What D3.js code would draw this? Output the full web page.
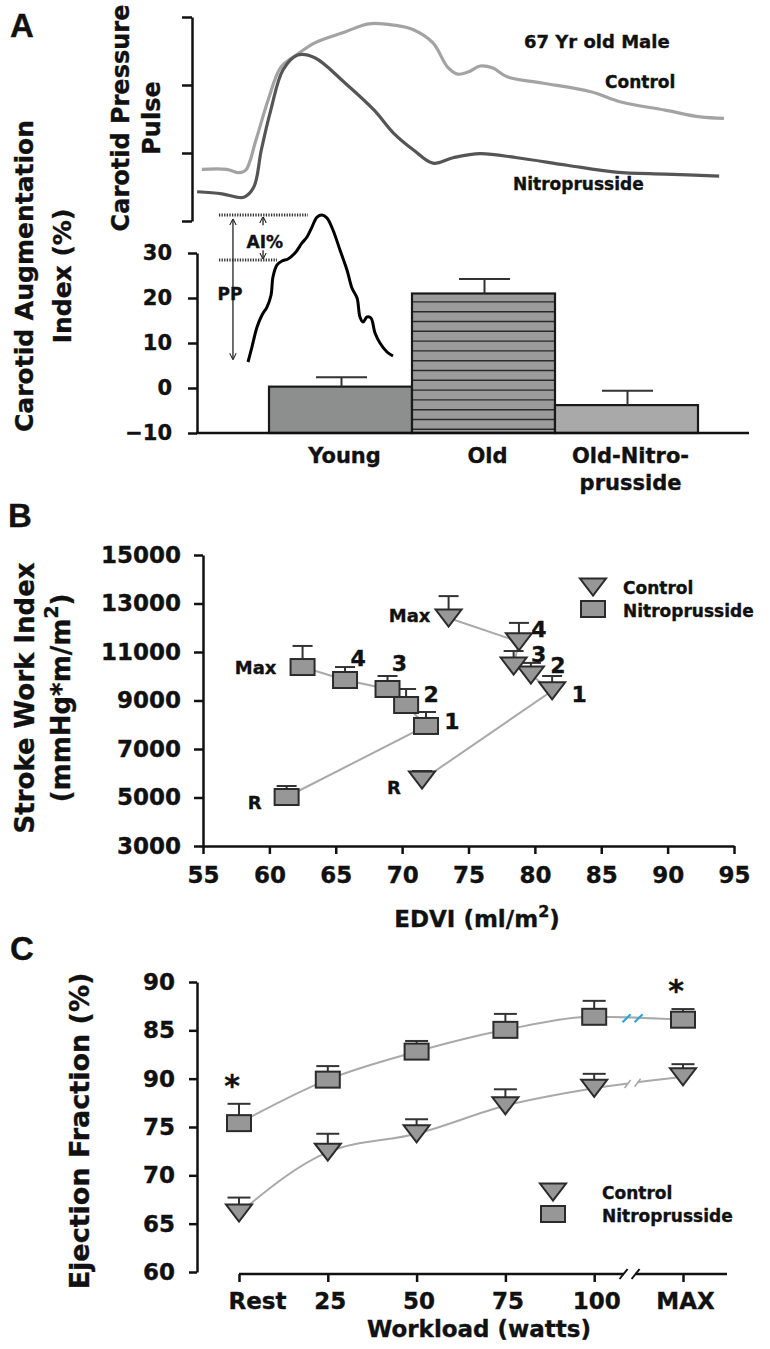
<!DOCTYPE html>
<html>
<head>
<meta charset="utf-8">
<script src="https://cdn.jsdelivr.net/npm/d3@7/dist/d3.min.js"></script>
<style>
  body { margin: 0; background: #fff; }
  svg { display: block; }
  svg text { stroke: #111; stroke-width: 0.35px; }
</style>
</head>
<body>
<svg id="fig" width="770" height="1349"></svg>
<script>
// ---- Panel A: carotid pressure pulse, 67 yr old male (time %, pressure units) ----
var controlPulse = [[1.3,0.76],[6.0,0.76],[8.3,0.71],[9.6,0.75],[11.5,1.19],[13.8,1.78],[16.2,2.26],[19.1,2.44],
  [22.6,2.62],[28.3,2.78],[32.8,2.90],[37.5,2.88],[41.3,2.81],[44.9,2.62],[47.7,2.26],[49.6,2.16],[51.5,2.19],
  [53.8,2.28],[56.2,2.25],[58.9,2.12],[65.5,2.03],[74.7,1.90],[80.4,1.75],[88.7,1.63],[95.3,1.53],[99.8,1.51]];
var nitroPulse = [[0.4,0.43],[5.1,0.40],[9.2,0.35],[11.1,0.50],[12.5,1.04],[14.3,1.63],[16.6,2.22],[19.4,2.44],
  [22.6,2.40],[28.3,2.03],[33.8,1.63],[37.5,1.29],[41.3,1.04],[44.9,0.85],[48.7,0.93],[53.8,0.99],[60.8,0.93],
  [70.2,0.82],[79.4,0.72],[88.7,0.69],[98.9,0.66]];
// schematic young pulse used to define AI% and PP (normalised)
var schematicPulse = [[0,0],[0.027,0.102],[0.062,0.238],[0.096,0.320],[0.130,0.374],[0.158,0.456],[0.171,0.578],
  [0.199,0.660],[0.233,0.687],[0.274,0.701],[0.322,0.741],[0.370,0.810],[0.404,0.850],[0.438,0.918],[0.473,0.986],
  [0.507,1.0],[0.541,0.980],[0.582,0.898],[0.630,0.762],[0.678,0.626],[0.712,0.503],[0.747,0.435],[0.767,0.306],
  [0.788,0.272],[0.815,0.306],[0.842,0.299],[0.870,0.197],[0.904,0.129],[0.952,0.068],[0.993,0.041]];
var schematicShoulder = 0.694;

// ---- Panel A: augmentation index bars ----
var aiGroups = ['Young', 'Old', 'Old-Nitro-prusside'];
var aiLabels = [['Young'], ['Old'], ['Old-Nitro-', 'prusside']];
var aiMeans = [0.3, 21.0, -3.8];
var aiErrors = [2.1, 3.2, 3.2];
var aiTicks = [-10, 0, 10, 20, 30];

// ---- Panel B: stroke work index vs EDVI ----
var stages = ['R', '1', '2', '3', '4', 'Max'];
var nitroEdvi = [61.3, 71.8, 70.3, 68.9, 65.7, 62.5];
var nitroSwi = [5020, 7950, 8815, 9475, 9845, 10380];
var nitroSwiErr = [455, 575, 660, 535, 535, 870];
var controlEdvi = [71.5, 81.3, 79.7, 78.4, 78.8, 73.5];
var controlSwi = [5720, 9400, 10050, 10420, 11420, 12400];
var controlSwiErr = [370, 610, 500, 620, 780, 905];
var edviTicks = [55, 60, 65, 70, 75, 80, 85, 90, 95];
var swiTicks = [3000, 5000, 7000, 9000, 11000, 13000, 15000];

// ---- Panel C: ejection fraction vs workload ----
var workloads = ['Rest', '25', '50', '75', '100', 'MAX'];
var nitroEF = [75.4, 79.9, 82.8, 85.05, 86.4, 86.1];
var nitroEFErr = [2.0, 1.4, 1.1, 1.65, 1.65, 1.1];
var controlEF = [66.1, 72.4, 74.3, 77.2, 79.0, 80.2];
var controlEFErr = [1.6, 1.9, 1.5, 1.7, 1.5, 1.3];
var efTicks = [60, 65, 70, 75, 80, 85, 90];
var efTickLabels = ['60', '65', '70', '75', '90', '85', '90'];
var significant = ['Rest', 'MAX'];

var FONT = "'DejaVu Sans', Verdana, sans-serif";
var INK = '#111';
var MARK_FILL = '#979797';
var MARK_STROKE = '#2b2b2b';
var LINK = '#a9a9a9';

var svg = d3.select('#fig');

function styleAxis(g, size) {
    g.attr('font-family', FONT).attr('font-size', size).attr('font-weight', 'bold');
    g.selectAll('path.domain').attr('stroke', INK).attr('stroke-width', 2.5);
    g.selectAll('.tick line').attr('stroke', INK).attr('stroke-width', 2.5);
    g.selectAll('.tick text').attr('fill', INK);
}

function label(x, y, txt, size, anchor) {
    return svg.append('text').attr('x', x).attr('y', y)
        .attr('font-family', FONT).attr('font-weight', 'bold')
        .attr('font-size', size).attr('fill', INK)
        .attr('text-anchor', anchor || 'start').text(txt);
}

// rotated axis title, one entry per line; odd parts of a line are superscripts
function vTitle(lines, xs, cy, size) {
    lines.forEach(function(ln, i) {
        var t = svg.append('text')
            .attr('transform', 'translate(' + xs[i] + ',' + cy + ') rotate(-90)')
            .attr('font-family', FONT).attr('font-weight', 'bold')
            .attr('font-size', size).attr('fill', INK).attr('text-anchor', 'middle');
        ln.forEach(function(part, j) {
            var sp = t.append('tspan').text(part);
            if (j % 2 === 1) sp.attr('font-size', size * 0.72).attr('dy', -size * 0.45);
            else if (j > 0) sp.attr('dy', size * 0.45);
        });
    });
}

function panelLetter(x, y, txt) {
    svg.append('text').attr('x', x).attr('y', y).text(txt)
        .attr('font-family', "'Liberation Sans', Arial, sans-serif")
        .attr('font-weight', 'bold').attr('font-size', 33).attr('fill', INK);
}

var triPath = 'M-13,-8.5L13,-8.5L0,8.5Z';

function drawMarkers(g, pts, shape) {
    var sel = g.selectAll(null).data(pts).enter();
    if (shape === 'square') {
        sel.append('rect')
            .attr('x', function(d) { return d[0] - 12; })
            .attr('y', function(d) { return d[1] - 8; })
            .attr('width', 24).attr('height', 16)
            .attr('fill', MARK_FILL).attr('stroke', MARK_STROKE).attr('stroke-width', 2);
    } else {
        sel.append('path').attr('d', triPath)
            .attr('transform', function(d) { return 'translate(' + d[0] + ',' + d[1] + ')'; })
            .attr('fill', MARK_FILL).attr('stroke', MARK_STROKE).attr('stroke-width', 2);
    }
}

function drawErrors(g, pts, capW) {
    var sel = g.selectAll(null).data(pts).enter();
    sel.append('line')
        .attr('x1', function(d) { return d[0]; }).attr('x2', function(d) { return d[0]; })
        .attr('y1', function(d) { return d[1]; }).attr('y2', function(d) { return d[2]; })
        .attr('stroke', '#333').attr('stroke-width', 2);
    sel.append('line')
        .attr('x1', function(d) { return d[0] - capW / 2; }).attr('x2', function(d) { return d[0] + capW / 2; })
        .attr('y1', function(d) { return d[2]; }).attr('y2', function(d) { return d[2]; })
        .attr('stroke', '#333').attr('stroke-width', 2);
}

function legend(x, y, gap, size) {
    var g = svg.append('g');
    drawMarkers(g, [[x, y]], 'tri');
    drawMarkers(g, [[x, y + 22]], 'square');
    label(x + gap, y + 7, 'Control', size);
    label(x + gap, y + 30, 'Nitroprusside', size);
}

// =================== Panel A ===================
panelLetter(10, 37, 'A');

var xTrace = d3.scaleLinear().domain([0, 100]).range([195, 725]);
var yTrace = d3.scaleLinear().domain([0, 3]).range([221, 17]);

var traceAxis = svg.append('g').attr('transform', 'translate(192,0)')
    .call(d3.axisLeft(yTrace).tickValues([0, 1, 2, 3]).tickSize(10).tickSizeOuter(0).tickFormat(''));
styleAxis(traceAxis, 20);

var traceLine = d3.line()
    .x(function(d) { return xTrace(d[0]); })
    .y(function(d) { return yTrace(d[1]); })
    .curve(d3.curveCatmullRom);

svg.append('path').datum(controlPulse).attr('d', traceLine)
    .attr('fill', 'none').attr('stroke', '#a3a3a3').attr('stroke-width', 3.2);
svg.append('path').datum(nitroPulse).attr('d', traceLine)
    .attr('fill', 'none').attr('stroke', '#555').attr('stroke-width', 3.2);

label(524, 48, '67 Yr old Male', 18);
label(605, 88, 'Control', 17);
label(513, 190, 'Nitroprusside', 17);

vTitle([['Carotid Pressure'], ['Pulse']], [129, 160], 118, 24);

// bars
var xBar = d3.scaleBand().domain(aiGroups).range([269, 698]).padding(0);
var yBar = d3.scaleLinear().domain([-10, 30]).range([433, 253]);

var barFills = ['#8d8e8e', '#9b9b9b', '#a9a9a9'];
var bars = svg.append('g');
aiGroups.forEach(function(grp, i) {
    var x0 = xBar(grp), w = xBar.bandwidth();
    var top = yBar(aiMeans[i]), bottom = yBar(-10);
    bars.append('rect').attr('x', x0).attr('y', top).attr('width', w).attr('height', bottom - top)
        .attr('fill', barFills[i]);
    if (grp === 'Old') {
        bars.selectAll(null).data(d3.range(top + 8.4, bottom - 2, 9.8)).enter().append('line')
            .attr('x1', x0).attr('x2', x0 + w)
            .attr('y1', function(d) { return d; }).attr('y2', function(d) { return d; })
            .attr('stroke', '#2a2a2a').attr('stroke-width', 1.4);
    }
    bars.append('rect').attr('x', x0).attr('y', top).attr('width', w).attr('height', bottom - top)
        .attr('fill', 'none').attr('stroke', '#1a1a1a').attr('stroke-width', 2.2);
    var cx = x0 + w / 2 + 1, eTop = yBar(aiMeans[i] + aiErrors[i]);
    drawErrors(bars, [[cx, top, eTop]], 51);
    aiLabels[i].forEach(function(t, j) {
        label(x0 + w / 2 + 4, 463 + j * 27, t, 21, 'middle');
    });
});

var barAxis = svg.append('g').attr('transform', 'translate(197,0)')
    .call(d3.axisLeft(yBar).tickValues(aiTicks).tickSize(9).tickPadding(16).tickSizeOuter(0));
styleAxis(barAxis, 21);
svg.append('line').attr('x1', 196).attr('x2', 749).attr('y1', yBar(-10)).attr('y2', yBar(-10))
    .attr('stroke', INK).attr('stroke-width', 2.5);

// schematic AI% / PP inset
var xIn = d3.scaleLinear().domain([0, 1]).range([248, 394]);
var yIn = d3.scaleLinear().domain([0, 1]).range([362, 215]);
svg.append('path').datum(schematicPulse)
    .attr('d', d3.line().x(function(d) { return xIn(d[0]); }).y(function(d) { return yIn(d[1]); }).curve(d3.curveCatmullRom))
    .attr('fill', 'none').attr('stroke', '#000').attr('stroke-width', 3);

var defs = svg.append('defs');
defs.append('marker').attr('id', 'ah').attr('viewBox', '0 0 10 10').attr('refX', 9).attr('refY', 5)
    .attr('markerWidth', 5).attr('markerHeight', 6).attr('orient', 'auto-start-reverse')
    .append('path').attr('d', 'M0,0L10,5L0,10').attr('fill', 'none').attr('stroke', '#222').attr('stroke-width', 1.6);

[[1, 0.411], [schematicShoulder, 0.199]].forEach(function(lv) {
    svg.append('line').attr('x1', xIn(-0.199)).attr('x2', xIn(lv[1]))
        .attr('y1', yIn(lv[0])).attr('y2', yIn(lv[0]))
        .attr('stroke', '#333').attr('stroke-width', 3).attr('stroke-dasharray', '1.3,1.3');
});
svg.append('line').attr('x1', xIn(-0.103)).attr('x2', xIn(-0.103)).attr('y1', yIn(0.97)).attr('y2', yIn(0.02))
    .attr('stroke', '#222').attr('stroke-width', 1.3)
    .attr('marker-start', 'url(#ah)').attr('marker-end', 'url(#ah)');
svg.append('line').attr('x1', xIn(0.103)).attr('x2', xIn(0.103)).attr('y1', yIn(0.93)).attr('y2', yIn(0.985))
    .attr('stroke', '#222').attr('stroke-width', 1.3).attr('marker-end', 'url(#ah)');
svg.append('line').attr('x1', xIn(0.103)).attr('x2', xIn(0.103)).attr('y1', yIn(0.76)).attr('y2', yIn(schematicShoulder + 0.01))
    .attr('stroke', '#222').attr('stroke-width', 1.3).attr('marker-end', 'url(#ah)');
label(xIn(-0.209), 300, 'PP', 17);
label(xIn(-0.01), 248, 'AI%', 17);

vTitle([['Carotid Augmentation'], ['Index (%)']], [33, 71], 276, 25);

// =================== Panel B ===================
panelLetter(8, 527, 'B');

var xEdvi = d3.scaleLinear().domain([55, 95]).range([203, 734]);
var ySwi = d3.scaleLinear().domain([3000, 15000]).range([846, 555]);

var bX = svg.append('g').attr('transform', 'translate(0,' + ySwi(3000) + ')')
    .call(d3.axisBottom(xEdvi).tickValues(edviTicks).tickSize(8).tickPadding(13).tickSizeOuter(0));
styleAxis(bX, 23);
var bY = svg.append('g').attr('transform', 'translate(' + xEdvi(55) + ',0)')
    .call(d3.axisLeft(ySwi).tickValues(swiTicks).tickSize(9).tickPadding(13).tickSizeOuter(0).tickFormat(d3.format('d')));
styleAxis(bY, 23);

var bLine = d3.line().x(function(d) { return d[0]; }).y(function(d) { return d[1]; });
var cLine = d3.line().x(function(d) { return d[0]; }).y(function(d) { return d[1]; })
    .curve(d3.curveMonotoneX);
var bSeries = [
    {edvi: nitroEdvi, swi: nitroSwi, err: nitroSwiErr, shape: 'square',
     off: [[-32, 5], [26, -4], [25, -10], [12, -25], [13, -22], [-47, 0]]},
    {edvi: controlEdvi, swi: controlSwi, err: controlSwiErr, shape: 'tri',
     off: [[-28, 7], [27, 4], [27, -10], [25, -12], [20, -12], [-39, -3]]}
];
var bG = svg.append('g');
bSeries.forEach(function(s) {
    var pts = s.edvi.map(function(v, i) { return [xEdvi(v), ySwi(s.swi[i]), ySwi(s.swi[i] + s.err[i])]; });
    bG.append('path').datum(pts).attr('d', bLine).attr('fill', 'none').attr('stroke', LINK).attr('stroke-width', 2);
});
bSeries.forEach(function(s) {
    var pts = s.edvi.map(function(v, i) { return [xEdvi(v), ySwi(s.swi[i]), ySwi(s.swi[i] + s.err[i])]; });
    drawErrors(bG, pts, 20);
    drawMarkers(bG, pts, s.shape);
    pts.forEach(function(p, i) {
        var isNum = stages[i] !== 'R' && stages[i] !== 'Max';
        label(p[0] + s.off[i][0], p[1] + s.off[i][1], stages[i], isNum ? 22 : 18, 'middle')
            .attr('dominant-baseline', 'central');
    });
});
legend(593, 587, 30, 17);

svg.append('text').attr('x', 477).attr('y', 927).attr('text-anchor', 'middle')
    .attr('font-family', FONT).attr('font-weight', 'bold').attr('font-size', 23).attr('fill', INK)
    .call(function(t) {
        t.append('tspan').text('EDVI (ml/m');
        t.append('tspan').text('2').attr('font-size', 16).attr('dy', -10);
        t.append('tspan').text(')').attr('dy', 10);
    });
vTitle([['Stroke Work Index'], ['(mmHg*m/m', '2', ')']], [34, 70], 698, 26);

// =================== Panel C ===================
panelLetter(10, 960, 'C');

var xWork = d3.scalePoint().domain(workloads).range([239, 683]);
var yEF = d3.scaleLinear().domain([60, 90]).range([1272, 982]);

var cY = svg.append('g').attr('transform', 'translate(197,0)')
    .call(d3.axisLeft(yEF).tickValues(efTicks).tickSize(8).tickPadding(14).tickSizeOuter(0)
        .tickFormat(function(d, i) { return efTickLabels[i]; }));
styleAxis(cY, 23);

var axisY = 1274;
var cX = svg.append('g').attr('transform', 'translate(0,' + axisY + ')')
    .call(d3.axisBottom(xWork).tickSize(8).tickPadding(11).tickSizeOuter(0));
styleAxis(cX, 23);
cX.select('path.domain').remove();
cX.selectAll('.tick text').attr('dx', function(d) { return d === 'Rest' ? 18 : 2; });

var brk = (xWork('100') + xWork('MAX')) / 2 - 9;
[[xWork('Rest'), brk - 6], [brk + 6, xWork('MAX') + 44]].forEach(function(seg) {
    svg.append('line').attr('x1', seg[0]).attr('x2', seg[1]).attr('y1', axisY).attr('y2', axisY)
        .attr('stroke', INK).attr('stroke-width', 2.5);
});
[brk - 6, brk + 6].forEach(function(bx) {
    svg.append('line').attr('x1', bx - 4).attr('x2', bx + 4).attr('y1', axisY + 5).attr('y2', axisY - 5)
        .attr('stroke', INK).attr('stroke-width', 2);
});

var cSeries = [
    {ef: nitroEF, err: nitroEFErr, shape: 'square'},
    {ef: controlEF, err: controlEFErr, shape: 'tri'}
];
var cG = svg.append('g');
cSeries.forEach(function(s) {
    var pts = workloads.map(function(w, i) { return [xWork(w), yEF(s.ef[i]), yEF(s.ef[i] + s.err[i])]; });
    cG.append('path').datum(pts).attr('d', cLine).attr('fill', 'none').attr('stroke', LINK).attr('stroke-width', 2);
});
// break in the control line between 100 and MAX
var cgap = brk + 3;
var ctrlAt = function(x) {
    var a = [xWork('100'), yEF(controlEF[4])], b = [xWork('MAX'), yEF(controlEF[5])];
    return a[1] + (b[1] - a[1]) * (x - a[0]) / (b[0] - a[0]);
};
cG.append('line').attr('x1', cgap - 5).attr('x2', cgap + 5).attr('y1', ctrlAt(cgap - 5)).attr('y2', ctrlAt(cgap + 5))
    .attr('stroke', '#fff').attr('stroke-width', 5);
[cgap - 5, cgap + 5].forEach(function(bx) {
    cG.append('line').attr('x1', bx - 3).attr('x2', bx + 3).attr('y1', ctrlAt(bx) + 4).attr('y2', ctrlAt(bx) - 4)
        .attr('stroke', LINK).attr('stroke-width', 1.6);
});
// cyan break marks on the nitroprusside line
var nitroAt = yEF((nitroEF[4] + nitroEF[5]) / 2);
[cgap - 6, cgap + 6].forEach(function(bx) {
    cG.append('line').attr('x1', bx - 4).attr('x2', bx + 4).attr('y1', nitroAt + 4).attr('y2', nitroAt - 4)
        .attr('stroke', '#29a9d6').attr('stroke-width', 2.2);
});

cSeries.forEach(function(s) {
    var pts = workloads.map(function(w, i) { return [xWork(w), yEF(s.ef[i]), yEF(s.ef[i] + s.err[i])]; });
    drawErrors(cG, pts, 23);
    drawMarkers(cG, pts, s.shape);
});
significant.forEach(function(w) {
    var i = workloads.indexOf(w);
    label(xWork(w) - 7, yEF(nitroEF[i] + nitroEFErr[i]) - 8, '*', 30, 'middle');
});
legend(553, 1192, 49, 17);

svg.append('text').attr('x', 479).attr('y', 1337).attr('text-anchor', 'middle')
    .attr('font-family', FONT).attr('font-weight', 'bold').attr('font-size', 23).attr('fill', INK)
    .text('Workload (watts)');
vTitle([['Ejection Fraction (%)']], [89], 1131, 27);
</script>
</body>
</html>
